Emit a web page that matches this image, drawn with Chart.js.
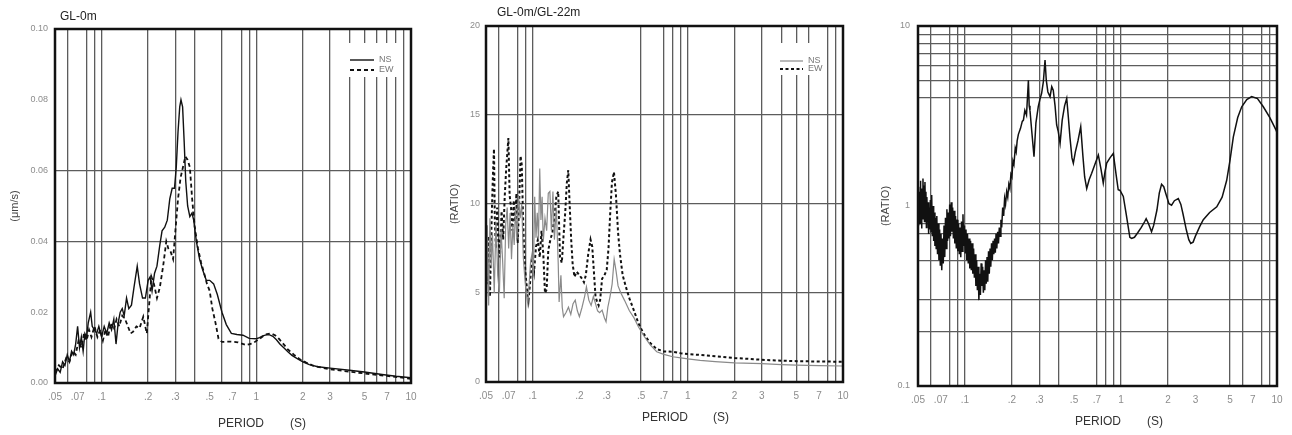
<!DOCTYPE html>
<html><head><meta charset="utf-8">
<script src="https://cdn.jsdelivr.net/npm/chart.js@4.4.1/dist/chart.umd.min.js"></script>
<style>
html,body{margin:0;padding:0;background:#fff;}
#wrap{position:relative;width:1292px;height:435px;overflow:hidden;background:#fff;}
canvas{position:absolute;top:0;}
</style></head><body>
<div id="wrap">
<canvas id="c1" width="430" height="435" style="left:0px"></canvas>
<canvas id="c2" width="430" height="435" style="left:430px"></canvas>
<canvas id="c3" width="432" height="435" style="left:860px"></canvas>
</div>
<script>
// ---------- tick definitions ----------
const periodTicks  = [0.05,0.06,0.07,0.08,0.09,0.1,0.2,0.3,0.4,0.5,0.6,0.7,0.8,0.9,1,2,3,4,5,6,7,8,9,10];
const periodLabels = ['.05','','.07','','','.1','.2','.3','','.5','','.7','','','1','2','3','','5','','7','','','10'];
const ratioLogTicks  = [0.1,0.2,0.3,0.4,0.5,0.6,0.7,0.8,0.9,1,2,3,4,5,6,7,8,9,10];
const ratioLogLabels = ['0.1','','','','','','','','','1','','','','','','','','','10'];

// grid lines visible in each panel
const grid1X = [0.06,0.08,0.09,0.1,0.2,0.3,0.4,0.6,0.8,0.9,1,2,3,4,5,6,7,8,9];
const grid1Y = [0.04,0.06];
const grid2X = [0.06,0.08,0.09,0.1,0.5,0.7,0.8,0.9,1,2,3,4,5,6,8,9];
const grid2Y = [5,10,15];
const grid3X = [0.06,0.08,0.09,0.1,0.2,0.3,0.4,0.7,0.8,0.9,1,2,5,6,8,9];
const grid3Y = [0.2,0.3,0.5,0.7,0.8,4,5,6,7,8,9];

// ---------- panel 1 : GL-0m amplitude (NS / EW) ----------
const ns1Period = [0.050,0.052,0.054,0.056,0.058,0.060,0.062,0.064,0.066,0.068,0.070,0.072,0.074,0.076,0.078,0.080,0.082,0.085,0.087,0.090,0.093,0.096,0.100,0.104,0.108,0.112,0.116,0.120,0.124,0.128,0.132,0.136,0.140,0.145,0.150,0.156,0.162,0.170,0.176,0.184,0.192,0.200,0.206,0.212,0.220,0.228,0.238,0.246,0.256,0.266,0.276,0.286,0.296,0.304,0.312,0.320,0.326,0.334,0.342,0.350,0.360,0.372,0.384,0.394,0.410,0.430,0.450,0.475,0.500,0.530,0.560,0.600,0.640,0.690,0.750,0.820,0.900,1.000,1.050,1.100,1.160,1.220,1.280,1.350,1.420,1.500,1.600,1.700,1.850,2.000,2.200,2.500,3.000,4.000,5.000,6.500,8.000,10.00];
const ns1Value  = [0.002,0.004,0.003,0.006,0.005,0.008,0.006,0.009,0.008,0.011,0.016,0.010,0.013,0.009,0.014,0.013,0.017,0.020,0.016,0.015,0.014,0.016,0.013,0.016,0.014,0.017,0.015,0.018,0.011,0.017,0.020,0.021,0.019,0.024,0.021,0.022,0.027,0.033,0.028,0.024,0.024,0.029,0.030,0.026,0.031,0.033,0.039,0.043,0.044,0.046,0.052,0.055,0.055,0.061,0.071,0.078,0.080,0.078,0.068,0.057,0.050,0.047,0.048,0.046,0.040,0.035,0.032,0.029,0.029,0.028,0.025,0.020,0.0165,0.014,0.0137,0.0135,0.0126,0.0125,0.0128,0.0133,0.0136,0.0136,0.0132,0.0122,0.0110,0.0100,0.0088,0.0078,0.0068,0.0060,0.0052,0.0046,0.0042,0.0036,0.0031,0.0024,0.0019,0.0015];
const ew1Period = [0.050,0.053,0.056,0.059,0.062,0.065,0.068,0.071,0.074,0.077,0.080,0.083,0.086,0.090,0.094,0.098,0.102,0.106,0.110,0.115,0.120,0.125,0.130,0.136,0.142,0.148,0.154,0.160,0.168,0.176,0.186,0.196,0.202,0.210,0.218,0.228,0.238,0.250,0.262,0.270,0.280,0.290,0.300,0.312,0.324,0.336,0.348,0.360,0.372,0.385,0.400,0.420,0.440,0.460,0.480,0.500,0.520,0.545,0.570,0.600,0.680,0.760,0.860,0.950,1.050,1.150,1.250,1.330,1.400,1.500,1.600,1.750,1.900,2.100,2.300,2.600,3.000,4.000,5.000,7.000,10.00];
const ew1Value  = [0.003,0.005,0.004,0.007,0.006,0.009,0.008,0.012,0.010,0.014,0.012,0.015,0.013,0.016,0.013,0.015,0.012,0.015,0.013,0.017,0.015,0.018,0.016,0.019,0.018,0.016,0.014,0.0145,0.016,0.0155,0.0187,0.014,0.021,0.030,0.028,0.024,0.027,0.033,0.040,0.038,0.037,0.035,0.043,0.052,0.058,0.061,0.064,0.063,0.061,0.052,0.044,0.038,0.034,0.031,0.028,0.026,0.021,0.017,0.0125,0.0116,0.0117,0.0115,0.0107,0.0112,0.0125,0.0137,0.0140,0.0134,0.0125,0.0110,0.0095,0.0080,0.0068,0.0058,0.0050,0.0044,0.0039,0.0032,0.0027,0.0020,0.0012];

// ---------- panel 2 : GL-0m/GL-22m ratio (NS / EW) ----------
const ns2Period = [0.050,0.0505,0.051,0.052,0.053,0.054,0.055,0.0565,0.058,0.0595,0.061,0.0625,0.064,0.0655,0.067,0.0685,0.070,0.0715,0.073,0.0745,0.076,0.0775,0.079,0.081,0.083,0.085,0.087,0.089,0.091,0.093,0.095,0.097,0.099,0.101,0.103,0.105,0.107,0.109,0.111,0.113,0.115,0.117,0.120,0.123,0.126,0.129,0.132,0.135,0.138,0.142,0.146,0.148,0.152,0.155,0.158,0.164,0.170,0.176,0.182,0.188,0.194,0.200,0.208,0.216,0.222,0.230,0.238,0.246,0.254,0.262,0.270,0.280,0.290,0.297,0.305,0.315,0.325,0.335,0.345,0.355,0.370,0.390,0.420,0.450,0.480,0.520,0.570,0.630,0.700,0.800,0.900,1.000,1.200,1.500,2.000,3.000,4.000,5.000,7.000,10.00];
const ns2Value  = [7.8,4.8,8.8,4.3,9.2,6.5,8.4,5.0,9.0,6.0,5.0,8.6,6.8,4.7,8.9,9.8,7.5,9.5,6.9,8.8,7.7,9.9,8.0,10.5,9.2,10.0,7.0,5.8,4.9,4.4,5.6,6.8,7.2,6.0,10.4,8.1,9.5,8.0,12.0,9.1,10.4,7.9,9.2,8.5,10.6,10.7,8.5,10.7,8.0,9.8,6.7,4.5,6.0,4.2,3.67,3.9,4.2,3.8,4.4,4.6,4.0,3.67,4.2,4.8,5.35,4.6,4.3,4.8,4.4,4.0,3.9,4.04,3.6,3.39,4.2,4.8,5.5,6.9,6.2,5.4,5.0,4.6,4.0,3.6,3.1,2.6,2.1,1.7,1.55,1.42,1.36,1.30,1.22,1.15,1.08,1.03,0.98,0.95,0.92,0.90];
const ew2Period = [0.050,0.051,0.052,0.053,0.0545,0.0555,0.0563,0.057,0.058,0.059,0.060,0.0615,0.063,0.0645,0.066,0.0675,0.0697,0.071,0.0725,0.074,0.0755,0.077,0.0785,0.080,0.0815,0.0835,0.085,0.0865,0.088,0.090,0.092,0.094,0.096,0.099,0.102,0.105,0.108,0.111,0.114,0.117,0.120,0.123,0.126,0.130,0.134,0.138,0.142,0.146,0.150,0.154,0.158,0.162,0.166,0.1695,0.173,0.177,0.181,0.186,0.192,0.200,0.208,0.214,0.220,0.228,0.236,0.242,0.248,0.254,0.260,0.266,0.272,0.280,0.290,0.300,0.308,0.316,0.324,0.334,0.344,0.355,0.365,0.380,0.400,0.420,0.450,0.480,0.520,0.570,0.630,0.700,0.800,0.900,1.000,1.200,1.500,2.000,3.000,4.000,5.000,7.000,10.00];
const ew2Value  = [8.0,5.5,8.2,4.8,9.5,11.8,13.1,9.0,7.5,9.8,8.2,7.0,9.6,8.0,10.4,12.0,13.7,10.5,9.8,8.5,10.2,9.0,10.6,7.8,9.6,12.7,12.2,9.5,7.4,6.0,5.2,4.6,5.5,7.0,6.2,7.6,8.0,7.0,8.5,7.2,5.0,5.2,7.4,8.0,8.4,9.2,10.4,10.7,7.0,6.7,8.2,9.5,11.2,11.9,10.0,8.0,6.6,5.9,6.2,6.0,5.8,5.6,6.0,7.2,8.0,7.6,6.2,4.8,4.5,4.3,4.6,5.8,6.0,6.3,7.5,9.5,11.2,11.8,10.5,8.4,7.2,6.0,5.3,4.7,4.0,3.3,2.7,2.2,1.85,1.72,1.70,1.62,1.57,1.52,1.45,1.35,1.25,1.20,1.17,1.15,1.14];

// ---------- panel 3 : spectral ratio (log) ----------
const r3Period = [0.0500,0.0503,0.0506,0.0509,0.0512,0.0515,0.0518,0.0521,0.0524,0.0527,0.0530,0.0534,0.0538,0.0542,0.0546,0.0550,0.0554,0.0558,0.0562,0.0566,0.0570,0.0575,0.0580,0.0585,0.0590,0.0595,0.0600,0.0606,0.0612,0.0618,0.0624,0.0630,0.0636,0.0642,0.0648,0.0654,0.0660,0.0667,0.0674,0.0681,0.0688,0.0695,0.0702,0.0710,0.0718,0.0726,0.0734,0.0742,0.0750,0.0758,0.0766,0.0774,0.0782,0.0790,0.0798,0.0807,0.0816,0.0825,0.0834,0.0843,0.0852,0.0861,0.0870,0.0880,0.0890,0.0900,0.0910,0.0920,0.0930,0.0940,0.0950,0.0960,0.0971,0.0982,0.0993,0.1004,0.1015,0.1026,0.1038,0.1050,0.1062,0.1074,0.1086,0.1098,0.1110,0.1123,0.1136,0.1149,0.1162,0.1175,0.1188,0.1201,0.1214,0.1228,0.1242,0.1256,0.1270,0.1284,0.1298,0.1312,0.1326,0.1340,0.1355,0.1370,0.1385,0.1400,0.1416,0.1432,0.1448,0.1464,0.1480,0.1497,0.1514,0.1531,0.1548,0.1565,0.1582,0.1600,0.1620,0.1640,0.1660,0.1680,0.1700,0.1720,0.1745,0.1770,0.1795,0.1820,0.1850,0.1880,0.1910,0.1940,0.1970,0.2000,0.2030,0.2060,0.2100,0.2130,0.2160,0.2200,0.2270,0.2330,0.2370,0.2420,0.2480,0.2550,0.2580,0.2610,0.2680,0.2770,0.2850,0.2950,0.3020,0.3100,0.3180,0.3260,0.3320,0.3400,0.3510,0.3600,0.3680,0.3780,0.3870,0.3960,0.4070,0.4200,0.4350,0.4490,0.4600,0.4710,0.4850,0.4950,0.5100,0.5300,0.5520,0.5700,0.5850,0.6030,0.6250,0.6490,0.6800,0.7160,0.7450,0.7700,0.7900,0.8100,0.8500,0.8930,0.9300,0.9600,0.9860,1.0350,1.0800,1.1400,1.1700,1.2200,1.2800,1.3500,1.4200,1.4500,1.5000,1.5700,1.6200,1.7000,1.7600,1.8200,1.8800,1.9500,2.0300,2.1100,2.2000,2.3300,2.4200,2.5000,2.6200,2.7200,2.8000,2.9000,3.0000,3.2000,3.3700,3.7000,4.1100,4.4500,4.7600,5.0000,5.2500,5.6000,5.9400,6.4000,6.8800,7.5000,8.1700,9.0000,9.8600,10.000];
const r3Value  = [1.10,0.78,1.28,0.86,1.20,0.80,1.38,0.92,1.15,0.75,1.25,0.85,1.42,0.96,1.30,0.82,1.36,0.90,1.20,0.76,1.12,0.82,1.05,0.70,0.98,0.74,1.08,0.72,1.15,0.68,1.00,0.64,0.92,0.60,0.86,0.58,0.88,0.54,0.80,0.50,0.74,0.47,0.70,0.44,0.66,0.48,0.78,0.52,0.86,0.58,0.96,0.64,0.92,0.66,1.02,0.68,1.05,0.72,0.98,0.66,0.94,0.62,0.88,0.58,0.84,0.56,0.80,0.54,0.76,0.52,0.82,0.56,0.90,0.60,0.78,0.55,0.74,0.50,0.70,0.48,0.66,0.45,0.64,0.44,0.62,0.42,0.58,0.40,0.54,0.36,0.50,0.34,0.46,0.30,0.42,0.32,0.48,0.36,0.46,0.33,0.44,0.34,0.50,0.37,0.52,0.38,0.56,0.42,0.58,0.46,0.62,0.50,0.64,0.54,0.66,0.55,0.70,0.58,0.72,0.62,0.76,0.68,0.84,0.76,0.98,0.88,1.10,1.02,1.20,1.12,1.32,1.25,1.50,1.45,1.78,1.70,2.10,2.00,2.30,2.50,2.70,2.95,3.00,3.40,3.20,5.00,3.60,3.40,2.60,1.88,2.90,3.56,3.90,4.23,4.90,6.47,5.00,4.30,4.05,4.60,4.40,3.60,2.82,2.60,2.23,3.00,3.60,3.96,3.10,2.40,1.85,1.73,2.00,2.30,2.76,1.90,1.45,1.25,1.40,1.52,1.70,1.92,1.60,1.34,1.55,1.73,1.85,1.96,1.50,1.23,1.22,1.13,0.90,0.67,0.66,0.67,0.71,0.76,0.82,0.85,0.80,0.72,0.78,0.95,1.18,1.32,1.28,1.15,1.03,1.01,1.07,1.10,1.02,0.90,0.74,0.65,0.62,0.63,0.68,0.77,0.84,0.92,0.99,1.12,1.39,1.80,2.42,3.10,3.56,3.90,4.05,3.95,3.56,3.10,2.64,2.55];

// ---------- helpers ----------
const pts = (xs, ys) => xs.map((x, i) => ({x, y: ys[i]}));
const onList = (list, v) => list.some(g => Math.abs(g - v) <= Math.abs(g) * 1e-6 + 1e-12);
const GRID = '#5c5c5c';
const TICKC = '#8c8c8c';
Chart.defaults.font.family = "'Liberation Sans', Arial, sans-serif";

const decor = {
  id: 'decor',
  afterDatasetsDraw(chart, args, o) {
    const ctx = chart.ctx, a = chart.chartArea;
    ctx.save();
    if (o.legend) {
      const L = o.legend;
      ctx.fillStyle = '#fff';
      ctx.fillRect(L.box[0], L.box[1], L.box[2], L.box[3]);
      chart.data.datasets.forEach((ds, i) => {
        const y = L.rows[i];
        ctx.strokeStyle = ds.borderColor;
        ctx.lineWidth = ds.borderWidth;
        ctx.setLineDash(ds.borderDash || []);
        ctx.beginPath(); ctx.moveTo(L.x0, y); ctx.lineTo(L.x1, y); ctx.stroke();
        ctx.setLineDash([]);
        ctx.fillStyle = '#777';
        ctx.font = "9px 'Liberation Sans', Arial, sans-serif";
        ctx.textAlign = 'left'; ctx.textBaseline = 'middle';
        ctx.fillText(ds.label, L.x1 + 5, y);
      });
    }
    ctx.strokeStyle = '#111';
    ctx.lineWidth = 2.5;
    ctx.strokeRect(a.left, a.top, a.right - a.left, a.bottom - a.top);
    ctx.restore();
  },
  afterDraw(chart, args, o) {
    const ctx = chart.ctx;
    ctx.save();
    ctx.textBaseline = 'middle'; ctx.textAlign = 'left';
    if (o.title) {
      ctx.fillStyle = '#222';
      ctx.font = "12px 'Liberation Sans', Arial, sans-serif";
      ctx.fillText(o.title.text, o.title.x, o.title.y);
    }
    if (o.caption) {
      ctx.fillStyle = '#333';
      ctx.font = "12px 'Liberation Sans', Arial, sans-serif";
      ctx.fillText('PERIOD', o.caption.x1, o.caption.y);
      ctx.fillText('(S)', o.caption.x2, o.caption.y);
    }
    ctx.restore();
  }
};

function makeChart(id, cfg) {
  return new Chart(document.getElementById(id), {
    type: 'line',
    data: { datasets: cfg.datasets },
    plugins: [decor],
    options: {
      responsive: false, animation: false, events: [],
      layout: { padding: { left: 0, right: cfg.padRight, top: cfg.padTop, bottom: 0 } },
      elements: { point: { radius: 0 }, line: { tension: 0, fill: false } },
      plugins: {
        legend: { display: false }, tooltip: { enabled: false },
        decor: cfg.decor
      },
      scales: {
        x: {
          type: 'logarithmic', min: 0.05, max: 10,
          afterBuildTicks: s => { s.ticks = periodTicks.map(v => ({ value: v })); },
          afterFit: s => { s.height = cfg.xHeight; },
          ticks: { autoSkip: false, maxRotation: 0, minRotation: 0, padding: 8, color: TICKC,
                   font: { size: 10 }, callback: (v, i) => periodLabels[i] },
          grid: { drawTicks: false, lineWidth: 1.3,
                  color: c => (c.tick && onList(cfg.gridX, c.tick.value)) ? GRID : 'rgba(0,0,0,0)' },
          border: { display: false }
        },
        y: Object.assign({
          afterFit: s => { s.width = cfg.yWidth; },
          grid: { drawTicks: false, lineWidth: 1.3,
                  color: c => (c.tick && onList(cfg.gridY, c.tick.value)) ? GRID : 'rgba(0,0,0,0)' },
          border: { display: false },
          title: { display: true, text: cfg.yTitle, color: '#444', font: { size: 11 },
                   padding: { top: cfg.yTitlePad, bottom: 0 } }
        }, cfg.y)
      }
    }
  });
}

makeChart('c1', {
  padRight: 19, padTop: 29, xHeight: 52, yWidth: 55, yTitle: '(μm/s)', yTitlePad: 8,
  gridX: grid1X, gridY: grid1Y,
  y: { type: 'linear', min: 0, max: 0.10,
       ticks: { stepSize: 0.02, padding: 7, color: TICKC, font: { size: 9 }, callback: v => v.toFixed(2) } },
  datasets: [
    { label: 'NS', data: pts(ns1Period, ns1Value), borderColor: '#111', borderWidth: 1.4 },
    { label: 'EW', data: pts(ew1Period, ew1Value), borderColor: '#111', borderWidth: 1.8, borderDash: [4, 3] }
  ],
  decor: {
    title: { text: 'GL-0m', x: 60, y: 17 },
    caption: { x1: 218, x2: 290, y: 424 },
    legend: { box: [347, 43, 53, 34], rows: [60, 70], x0: 350, x1: 374 }
  }
});

makeChart('c2', {
  padRight: 17, padTop: 26, xHeight: 53, yWidth: 56, yTitle: '(RATIO)', yTitlePad: 18,
  gridX: grid2X, gridY: grid2Y,
  y: { type: 'linear', min: 0, max: 20,
       ticks: { stepSize: 5, padding: 6, color: TICKC, font: { size: 9 } } },
  datasets: [
    { label: 'NS', data: pts(ns2Period, ns2Value), borderColor: '#8a8a8a', borderWidth: 1.2 },
    { label: 'EW', data: pts(ew2Period, ew2Value), borderColor: '#111', borderWidth: 2.0, borderDash: [3, 2.5] }
  ],
  decor: {
    title: { text: 'GL-0m/GL-22m', x: 67, y: 13 },
    caption: { x1: 212, x2: 283, y: 418 },
    legend: { box: [348, 43, 47, 32], rows: [61, 69], x0: 350, x1: 373 }
  }
});

makeChart('c3', {
  padRight: 15, padTop: 26, xHeight: 49, yWidth: 58, yTitle: '(RATIO)', yTitlePad: 19,
  gridX: grid3X, gridY: grid3Y,
  y: { type: 'logarithmic', min: 0.1, max: 10,
       afterBuildTicks: s => { s.ticks = ratioLogTicks.map(v => ({ value: v })); },
       ticks: { autoSkip: false, padding: 8, color: TICKC, font: { size: 9 }, callback: (v, i) => ratioLogLabels[i] } },
  datasets: [
    { label: 'RATIO', data: pts(r3Period, r3Value), borderColor: '#111', borderWidth: 1.5 }
  ],
  decor: {
    caption: { x1: 215, x2: 287, y: 422 }
  }
});
</script>
</body></html>
